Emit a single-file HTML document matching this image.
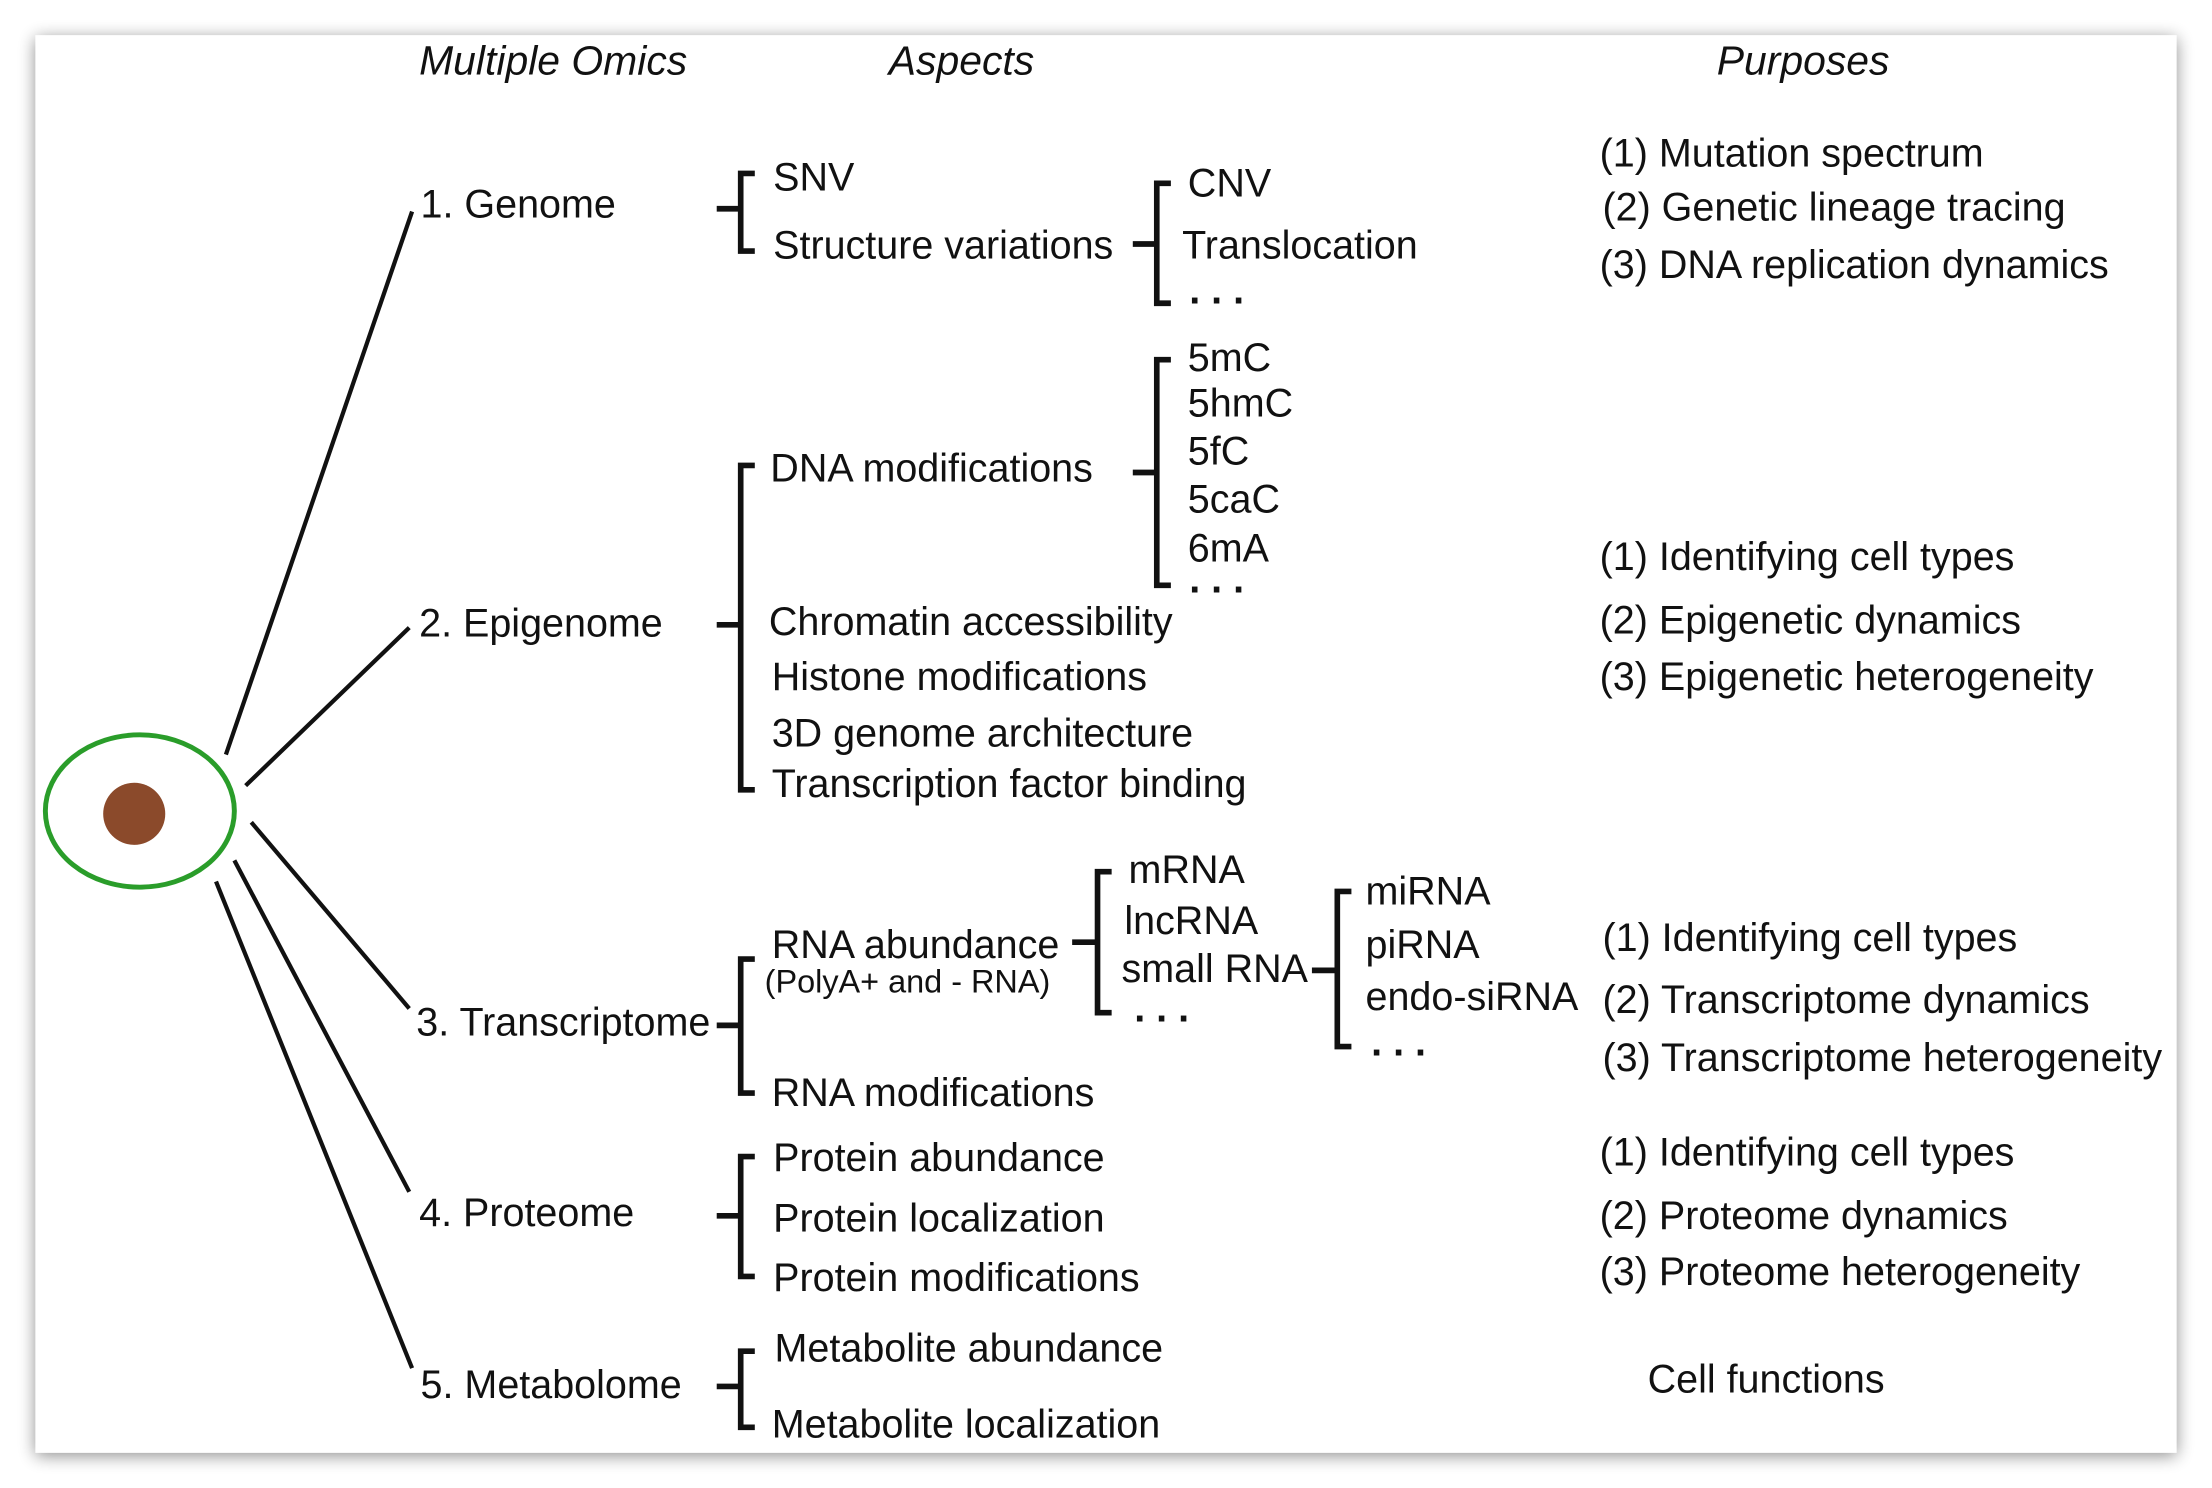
<!DOCTYPE html>
<html><head><meta charset="utf-8"><style>
html,body{margin:0;padding:0;background:#fff;}
svg{display:block;}
text{font-family:"Liberation Sans",Arial,sans-serif;font-size:28px;fill:#111;dominant-baseline:central;}
.h{font-style:italic;font-size:29px;}
.s{font-size:23px;}
.d{font-weight:bold;}
</style></head><body>
<svg width="2212" height="1488" viewBox="0 0 1568 1055" xmlns="http://www.w3.org/2000/svg">
<defs><filter id="sh" x="-5%" y="-5%" width="110%" height="110%"><feGaussianBlur in="SourceAlpha" stdDeviation="6"/><feOffset dx="0" dy="2"/><feComponentTransfer><feFuncA type="linear" slope="0.45"/></feComponentTransfer><feMerge><feMergeNode/><feMergeNode in="SourceGraphic"/></feMerge></filter></defs>
<rect x="25" y="25" width="1518" height="1005" fill="#fff" filter="url(#sh)"/>
<g>
<text class="h" x="297" y="43">Multiple Omics</text>
<text class="h" x="630" y="43">Aspects</text>
<text class="h" x="1217" y="43">Purposes</text>
</g>
<g>
<ellipse cx="99" cy="575" rx="67" ry="54" fill="none" stroke="#2a9d2a" stroke-width="3.5"/>
<circle cx="95" cy="577" r="22" fill="#8b4a2b"/>
</g>
<g stroke="#111" stroke-width="3">
<line x1="160" y1="535" x2="292" y2="150"/>
<line x1="174" y1="557" x2="290" y2="445"/>
<line x1="178" y1="583" x2="290" y2="715"/>
<line x1="166" y1="610" x2="290" y2="845"/>
<line x1="153" y1="625" x2="292" y2="970"/>
</g>
<g>
<text x="298" y="145">1. Genome</text>
<text x="297" y="442">2. Epigenome</text>
<text x="295" y="725">3. Transcriptome</text>
<text x="297" y="860">4. Proteome</text>
<text x="298" y="982">5. Metabolome</text>
</g>
<g fill="none" stroke="#111" stroke-width="4">
<path d="M535 123H525V178H535M525 148H508"/>
<path d="M830 130H820V215H830M820 173H803"/>
<path d="M535 330H525V560H535M525 443H508"/>
<path d="M830 255H820V415H830M820 335H803"/>
<path d="M535 680H525V775H535M525 727H508"/>
<path d="M788 618H778V718H788M778 668H760"/>
<path d="M958 632H948V742H958M948 688H930"/>
<path d="M535 820H525V905H535M525 862H508"/>
<path d="M535 958H525V1012H535M525 983H508"/>
</g>
<g>
<text x="548" y="126">SNV</text>
<text x="548" y="174">Structure variations</text>
<text x="842" y="130">CNV</text>
<text x="838" y="174">Translocation</text>
<text class="d" x="843" y="206">. . .</text>
<text x="546" y="332">DNA modifications</text>
<text x="842" y="254">5mC</text>
<text x="842" y="286">5hmC</text>
<text x="842" y="320">5fC</text>
<text x="842" y="354">5caC</text>
<text x="842" y="389">6mA</text>
<text class="d" x="843" y="411">. . .</text>
<text x="545" y="441">Chromatin accessibility</text>
<text x="547" y="480">Histone modifications</text>
<text x="547" y="520">3D genome architecture</text>
<text x="547" y="556">Transcription factor binding</text>
<text x="547" y="670">RNA abundance</text>
<text class="s" x="542" y="696">(PolyA+ and - RNA)</text>
<text x="547" y="775">RNA modifications</text>
<text x="800" y="617">mRNA</text>
<text x="797" y="653">lncRNA</text>
<text x="795" y="687">small RNA</text>
<text class="d" x="804" y="715">. . .</text>
<text x="968" y="632">miRNA</text>
<text x="968" y="670">piRNA</text>
<text x="968" y="707">endo-siRNA</text>
<text class="d" x="972" y="739">. . .</text>
<text x="548" y="821">Protein abundance</text>
<text x="548" y="864">Protein localization</text>
<text x="548" y="906">Protein modifications</text>
<text x="549" y="956">Metabolite abundance</text>
<text x="547" y="1010">Metabolite localization</text>
</g>
<g>
<text x="1134" y="109">(1) Mutation spectrum</text>
<text x="1136" y="147">(2) Genetic lineage tracing</text>
<text x="1134" y="188">(3) DNA replication dynamics</text>
<text x="1134" y="395">(1) Identifying cell types</text>
<text x="1134" y="440">(2) Epigenetic dynamics</text>
<text x="1134" y="480">(3) Epigenetic heterogeneity</text>
<text x="1136" y="665">(1) Identifying cell types</text>
<text x="1136" y="709">(2) Transcriptome dynamics</text>
<text x="1136" y="750">(3) Transcriptome heterogeneity</text>
<text x="1134" y="817">(1) Identifying cell types</text>
<text x="1134" y="862">(2) Proteome dynamics</text>
<text x="1134" y="902">(3) Proteome heterogeneity</text>
<text x="1168" y="978">Cell functions</text>
</g>
</svg>
</body></html>
